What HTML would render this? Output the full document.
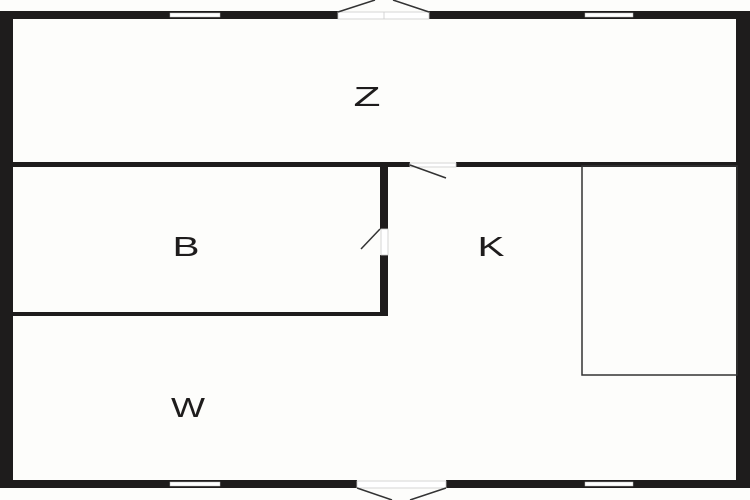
<!DOCTYPE html>
<html><head><meta charset="utf-8"><style>
html,body{margin:0;padding:0;background:#fdfdfb;}
svg{display:block}
text{font-family:"Liberation Sans",Arial,sans-serif;font-size:28px;fill:#1e1c1c;text-anchor:middle}
</style></head><body>
<svg width="750" height="500" viewBox="0 0 750 500" xmlns="http://www.w3.org/2000/svg">
<rect width="750" height="500" fill="#fdfdfb"/>
<g fill="#1e1c1c">
<rect x="0" y="11" width="338" height="8"/>
<rect x="429" y="11" width="321" height="8"/>
<rect x="0" y="11" width="13" height="477"/>
<rect x="736" y="11" width="14" height="477"/>
<rect x="0" y="480" width="357" height="8"/>
<rect x="446" y="480" width="304" height="8"/>
<rect x="13" y="162" width="397" height="5"/>
<rect x="456" y="162" width="280" height="5"/>
<rect x="380" y="162" width="8" height="67"/>
<rect x="380" y="255" width="8" height="61"/>
<rect x="13" y="312" width="375" height="4"/>
</g>
<g fill="#fff" stroke="#bbb" stroke-width="0.5">
<rect x="170" y="13" width="50" height="4"/>
<rect x="585" y="13" width="48" height="4"/>
<rect x="170" y="482" width="50" height="4"/>
<rect x="585" y="482" width="48" height="4"/>
</g>
<g fill="#fff" stroke="#ccc" stroke-width="0.8">
<rect x="338" y="12" width="91" height="7"/>
<rect x="357" y="481" width="89" height="7"/>
<rect x="410" y="163" width="46" height="4"/>
<rect x="381" y="229" width="7" height="26"/>
</g>
<line x1="384" y1="12" x2="384" y2="19" stroke="#ccc" stroke-width="0.8"/>
<g stroke="#333" stroke-width="1.5" fill="none">
<line x1="338" y1="12" x2="375" y2="0"/>
<line x1="429" y1="12" x2="393" y2="0"/>
<line x1="357" y1="488" x2="392" y2="500"/>
<line x1="446" y1="488" x2="410" y2="500"/>
<line x1="410" y1="165" x2="446" y2="178"/>
<line x1="380" y1="229" x2="361" y2="249"/>
</g>
<rect x="582" y="166" width="155" height="209" fill="none" stroke="#333" stroke-width="1.5"/>
<text x="367" y="106" textLength="27" lengthAdjust="spacingAndGlyphs">Z</text>
<text x="186" y="256" textLength="27" lengthAdjust="spacingAndGlyphs">B</text>
<text x="491" y="256" textLength="27" lengthAdjust="spacingAndGlyphs">K</text>
<text x="188" y="417" textLength="34" lengthAdjust="spacingAndGlyphs">W</text>
</svg>
</body></html>
